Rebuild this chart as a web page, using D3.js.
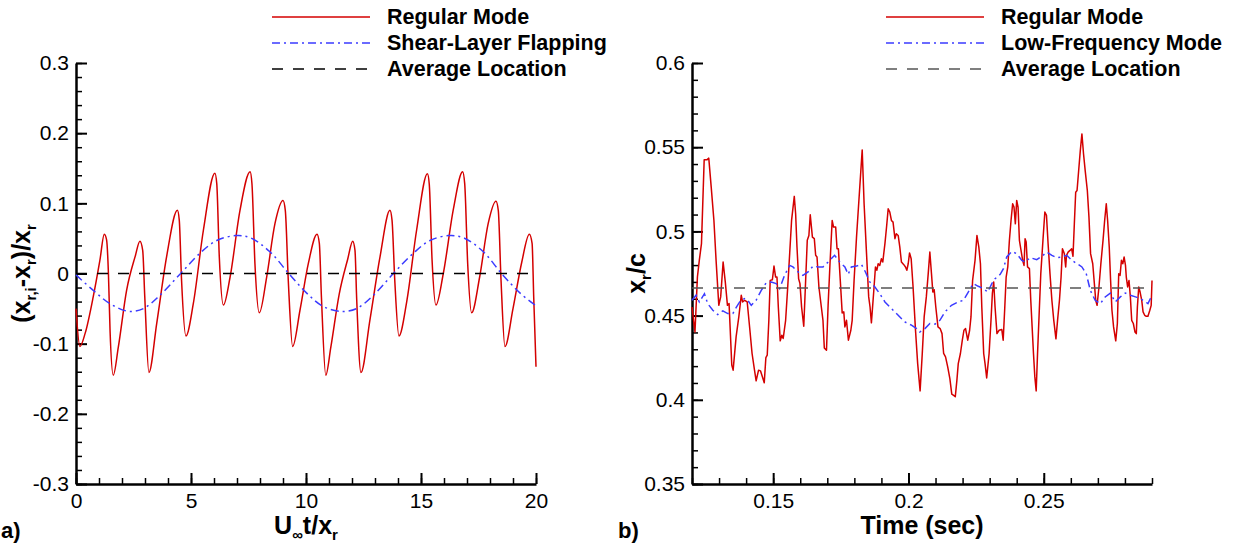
<!DOCTYPE html>
<html><head><meta charset="utf-8">
<script src="https://cdn.jsdelivr.net/npm/d3@7"></script>
<style>
body{margin:0;background:#fff}
svg{display:block}
text{font-family:"Liberation Sans",Arial,Helvetica,sans-serif}
</style>
</head><body>
<svg id="c" width="1237" height="544"></svg>
<script>
// ---------- Panel a) data ----------
const aXTicks = [0, 5, 10, 15, 20];
const aYTicks = [-0.3, -0.2, -0.1, 0, 0.1, 0.2, 0.3];
const aLegend = ["Regular Mode", "Shear-Layer Flapping", "Average Location"];
const aAverage = 0;
const aRegular = [
  [0.00,-0.050],[0.17,-0.104],[0.40,-0.085],[0.75,-0.033],[1.04,0.019],[1.23,0.056],[1.33,0.048],[1.41,0.000],[1.48,-0.081],
  [1.62,-0.145],[1.84,-0.105],[2.20,-0.024],[2.57,0.024],[2.78,0.046],[2.90,0.033],[2.99,-0.033],
  [3.17,-0.141],[3.51,-0.071],[3.94,0.024],[4.41,0.090],[4.49,0.076],[4.59,-0.010],
  [4.78,-0.089],[5.10,-0.043],[5.54,0.062],[6.04,0.143],[6.12,0.128],[6.23,0.024],
  [6.41,-0.045],[6.70,-0.005],[7.13,0.090],[7.57,0.145],[7.65,0.128],[7.78,0.014],
  [7.97,-0.056],[8.29,-0.005],[8.65,0.071],[9.00,0.104],[9.10,0.090],[9.23,-0.010],
  [9.42,-0.104],[9.74,-0.052],[10.10,0.014],[10.48,0.056],[10.58,0.043],[10.67,-0.033],
  [10.86,-0.145],[11.08,-0.105],[11.44,-0.030],[11.81,0.020],[12.03,0.046],[12.13,0.033],[12.20,-0.033],
  [12.39,-0.141],[12.78,-0.066],[13.22,0.024],[13.65,0.090],[13.74,0.076],[13.86,-0.010],
  [14.04,-0.089],[14.38,-0.040],[14.81,0.062],[15.28,0.142],[15.36,0.127],[15.48,0.020],
  [15.65,-0.045],[15.97,0.000],[16.41,0.092],[16.81,0.145],[16.90,0.128],[17.03,0.014],
  [17.20,-0.056],[17.55,-0.005],[17.92,0.071],[18.26,0.103],[18.36,0.090],[18.48,-0.010],
  [18.65,-0.104],[19.00,-0.050],[19.38,0.016],[19.71,0.056],[19.83,0.043],[19.90,-0.033],[20.00,-0.133]
];
const aFlapping = [
  [0,-0.002],[0.75,-0.024],[1.48,-0.043],[2.30,-0.054],[2.93,-0.050],[3.65,-0.031],[4.55,0.000],
  [5.39,0.029],[6.12,0.047],[6.95,0.054],[7.57,0.051],[8.43,0.031],[9.25,0.000],[10.03,-0.028],
  [10.75,-0.047],[11.55,-0.054],[12.20,-0.050],[12.93,-0.031],[13.80,0.000],[14.67,0.029],
  [15.39,0.047],[16.20,0.054],[16.84,0.051],[17.71,0.031],[18.50,0.000],[19.31,-0.028],[20.00,-0.046]
];

// ---------- Panel b) data ----------
const bXTicks = [0.15, 0.2, 0.25];
const bYTicks = [0.35, 0.4, 0.45, 0.5, 0.55, 0.6];
const bLegend = ["Regular Mode", "Low-Frequency Mode", "Average Location"];
const bAverage = 0.4664;
const bRegular = [
  [0.1200,0.4551],[0.1211,0.4403],[0.1220,0.4729],[0.1227,0.4828],[0.1235,0.4927],[0.1245,0.5425],[0.1255,0.5425],
  [0.1262,0.5435],[0.1271,0.5263],[0.1281,0.5065],[0.1289,0.4828],[0.1299,0.4561],[0.1306,0.4611],[0.1315,0.4818],
  [0.1323,0.4700],[0.1331,0.4561],[0.1337,0.4571],[0.1347,0.4206],[0.1352,0.4176],[0.1363,0.4374],[0.1373,0.4492],
  [0.1382,0.4621],[0.1387,0.4581],[0.1395,0.4591],[0.1404,0.4581],[0.1414,0.4413],[0.1422,0.4275],[0.1431,0.4176],
  [0.1437,0.4113],[0.1446,0.4176],[0.1453,0.4172],[0.1461,0.4132],[0.1467,0.4101],[0.1473,0.4251],[0.1478,0.4265],
  [0.1484,0.4472],[0.1489,0.4709],[0.1497,0.4713],[0.1503,0.4794],[0.1509,0.4729],[0.1514,0.4729],[0.1519,0.4551],
  [0.1526,0.4350],[0.1532,0.4383],[0.1537,0.4364],[0.1546,0.4472],[0.1553,0.4650],[0.1561,0.4868],[0.1568,0.5065],
  [0.1578,0.5208],[0.1583,0.5105],[0.1588,0.4907],[0.1594,0.4719],[0.1599,0.4690],[0.1605,0.4551],[0.1613,0.4437],
  [0.1619,0.4670],[0.1626,0.4947],[0.1632,0.4976],[0.1637,0.5099],[0.1645,0.4966],[0.1652,0.4957],[0.1657,0.4858],
  [0.1662,0.4848],[0.1669,0.4670],[0.1678,0.4551],[0.1684,0.4472],[0.1689,0.4308],[0.1697,0.4294],[0.1703,0.4561],
  [0.1710,0.4808],[0.1718,0.5065],[0.1723,0.5026],[0.1731,0.5026],[0.1736,0.4897],[0.1741,0.4897],[0.1748,0.4709],
  [0.1755,0.4516],[0.1761,0.4522],[0.1765,0.4433],[0.1771,0.4472],[0.1778,0.4354],[0.1787,0.4413],[0.1792,0.4472],
  [0.1799,0.4709],[0.1808,0.4966],[0.1816,0.5164],[0.1829,0.5484],[0.1836,0.5164],[0.1845,0.4868],[0.1853,0.4611],
  [0.1858,0.4551],[0.1863,0.4457],[0.1871,0.4630],[0.1878,0.4789],[0.1883,0.4769],[0.1888,0.4808],[0.1894,0.4798],
  [0.1900,0.4838],[0.1905,0.4818],[0.1913,0.4927],[0.1919,0.5026],[0.1925,0.5134],[0.1931,0.5115],[0.1937,0.5065],
  [0.1943,0.5055],[0.1950,0.4957],[0.1955,0.4986],[0.1962,0.4976],[0.1968,0.4907],[0.1974,0.4818],[0.1982,0.4804],
  [0.1989,0.4789],[0.1994,0.4769],[0.1999,0.4808],[0.2004,0.4872],[0.2010,0.4838],[0.2017,0.4670],[0.2026,0.4413],
  [0.2034,0.4215],[0.2043,0.4053],[0.2051,0.4275],[0.2058,0.4492],[0.2066,0.4611],[0.2073,0.4749],[0.2079,0.4877],
  [0.2085,0.4749],[0.2090,0.4640],[0.2095,0.4654],[0.2101,0.4551],[0.2109,0.4433],[0.2117,0.4423],[0.2124,0.4393],
  [0.2130,0.4275],[0.2137,0.4255],[0.2145,0.4196],[0.2153,0.4126],[0.2160,0.4034],[0.2167,0.4026],[0.2173,0.4018],
  [0.2179,0.4117],[0.2184,0.4215],[0.2192,0.4275],[0.2199,0.4354],[0.2205,0.4413],[0.2211,0.4423],[0.2219,0.4354],
  [0.2226,0.4413],[0.2231,0.4492],[0.2237,0.4709],[0.2246,0.4828],[0.2253,0.4976],[0.2260,0.4907],[0.2266,0.4808],
  [0.2271,0.4551],[0.2278,0.4275],[0.2283,0.4215],[0.2289,0.4130],[0.2298,0.4275],[0.2305,0.4472],[0.2310,0.4630],
  [0.2315,0.4700],[0.2320,0.4551],[0.2327,0.4393],[0.2335,0.4413],[0.2345,0.4417],[0.2350,0.4354],[0.2356,0.4551],
  [0.2361,0.4729],[0.2367,0.4789],[0.2373,0.4947],[0.2379,0.5065],[0.2385,0.5164],[0.2390,0.5144],[0.2395,0.5045],
  [0.2400,0.5184],[0.2405,0.5144],[0.2410,0.4947],[0.2416,0.4887],[0.2422,0.4828],[0.2427,0.4798],[0.2431,0.4957],
  [0.2435,0.4937],[0.2440,0.4789],[0.2447,0.4779],[0.2452,0.4591],[0.2457,0.4433],[0.2462,0.4275],[0.2467,0.4136],
  [0.2472,0.4053],[0.2477,0.4275],[0.2483,0.4512],[0.2489,0.4749],[0.2497,0.4947],[0.2504,0.5115],[0.2510,0.5095],
  [0.2516,0.4927],[0.2523,0.4749],[0.2530,0.4591],[0.2537,0.4472],[0.2545,0.4362],[0.2551,0.4472],[0.2558,0.4591],
  [0.2564,0.4729],[0.2569,0.4897],[0.2576,0.4868],[0.2581,0.4789],[0.2584,0.4858],[0.2590,0.4877],[0.2597,0.4887],
  [0.2603,0.4897],[0.2608,0.4852],[0.2613,0.5045],[0.2618,0.5233],[0.2623,0.5243],[0.2629,0.5362],[0.2635,0.5480],
  [0.2641,0.5579],[0.2647,0.5460],[0.2653,0.5362],[0.2661,0.5243],[0.2667,0.5085],[0.2673,0.4868],[0.2681,0.4808],
  [0.2687,0.4690],[0.2692,0.4591],[0.2697,0.4561],[0.2704,0.4670],[0.2711,0.4808],[0.2719,0.4947],[0.2725,0.5065],
  [0.2731,0.5164],[0.2736,0.5065],[0.2742,0.4907],[0.2747,0.4709],[0.2752,0.4532],[0.2758,0.4433],[0.2766,0.4350],
  [0.2772,0.4453],[0.2777,0.4749],[0.2782,0.4739],[0.2787,0.4828],[0.2792,0.4808],[0.2797,0.4848],[0.2802,0.4798],
  [0.2805,0.4729],[0.2810,0.4670],[0.2815,0.4709],[0.2820,0.4611],[0.2825,0.4472],[0.2831,0.4453],[0.2837,0.4403],
  [0.2842,0.4393],[0.2846,0.4551],[0.2851,0.4670],[0.2856,0.4640],[0.2862,0.4591],[0.2867,0.4522],[0.2873,0.4502],
  [0.2879,0.4496],[0.2885,0.4496],[0.2892,0.4532],[0.2897,0.4561],[0.2900,0.4709]
];
const bLowFreq = [
  [0.1200,0.4591],[0.1215,0.4621],[0.1227,0.4581],[0.1246,0.4630],[0.1258,0.4571],[0.1277,0.4532],[0.1295,0.4506],
  [0.1314,0.4528],[0.1332,0.4512],[0.1351,0.4512],[0.1363,0.4547],[0.1376,0.4581],[0.1394,0.4601],[0.1406,0.4591],
  [0.1419,0.4561],[0.1437,0.4591],[0.1456,0.4650],[0.1474,0.4694],[0.1493,0.4700],[0.1511,0.4690],[0.1524,0.4660],
  [0.1542,0.4739],[0.1561,0.4798],[0.1573,0.4789],[0.1592,0.4759],[0.1610,0.4739],[0.1629,0.4759],[0.1647,0.4794],
  [0.1666,0.4789],[0.1684,0.4789],[0.1703,0.4818],[0.1727,0.4858],[0.1746,0.4818],[0.1765,0.4789],[0.1777,0.4745],
  [0.1789,0.4789],[0.1808,0.4794],[0.1826,0.4804],[0.1841,0.4759],[0.1857,0.4700],[0.1876,0.4670],[0.1894,0.4630],
  [0.1913,0.4581],[0.1937,0.4542],[0.1962,0.4502],[0.1987,0.4462],[0.2011,0.4443],[0.2030,0.4423],[0.2042,0.4403],
  [0.2061,0.4423],[0.2079,0.4453],[0.2098,0.4449],[0.2116,0.4472],[0.2135,0.4522],[0.2159,0.4561],[0.2184,0.4581],
  [0.2203,0.4591],[0.2221,0.4640],[0.2240,0.4690],[0.2258,0.4674],[0.2277,0.4660],[0.2293,0.4640],[0.2308,0.4690],
  [0.2320,0.4719],[0.2339,0.4745],[0.2351,0.4779],[0.2363,0.4848],[0.2382,0.4881],[0.2400,0.4868],[0.2419,0.4828],
  [0.2431,0.4818],[0.2450,0.4844],[0.2474,0.4832],[0.2493,0.4852],[0.2511,0.4877],[0.2530,0.4858],[0.2548,0.4844],
  [0.2567,0.4848],[0.2585,0.4858],[0.2604,0.4828],[0.2623,0.4808],[0.2641,0.4789],[0.2657,0.4749],[0.2672,0.4650],
  [0.2690,0.4591],[0.2709,0.4571],[0.2727,0.4611],[0.2746,0.4634],[0.2764,0.4581],[0.2783,0.4611],[0.2801,0.4634],
  [0.2820,0.4621],[0.2839,0.4611],[0.2857,0.4601],[0.2876,0.4581],[0.2885,0.4571],[0.2900,0.4621]
];

// ---------- styles ----------
const RED = "#d40000", BLUE = "#3b3bff";
const FONT = '"Liberation Sans",Arial,Helvetica,sans-serif';
const svg = d3.select("#c");

function fmt(d){ return String(+d.toFixed(3)); }

function panel(o){
  const x = d3.scaleLinear().domain(o.xDom).range([o.left, o.right]);
  const y = d3.scaleLinear().domain(o.yDom).range([484, 63]);
  const g = svg.append("g");

  // minor ticks
  g.append("g").attr("transform","translate(0,484)")
    .call(d3.axisBottom(x).tickValues(o.xMinor).tickSize(-6).tickSizeOuter(0).tickFormat(""))
    .call(s=>{s.select(".domain").remove(); s.selectAll("line").attr("stroke","#000").attr("stroke-width",1.5);});
  g.append("g").attr("transform",`translate(${o.left},0)`)
    .call(d3.axisLeft(y).tickValues(o.yMinor).tickSize(-6).tickSizeOuter(0).tickFormat(""))
    .call(s=>{s.select(".domain").remove(); s.selectAll("line").attr("stroke","#000").attr("stroke-width",1.5);});

  // major axes
  const ax = g.append("g").attr("transform","translate(0,484)")
    .call(d3.axisBottom(x).tickValues(o.xTicks).tickSize(-11).tickSizeOuter(0).tickPadding(9).tickFormat(fmt));
  const ay = g.append("g").attr("transform",`translate(${o.left},0)`)
    .call(d3.axisLeft(y).tickValues(o.yTicks).tickSize(-11).tickSizeOuter(0).tickPadding(7).tickFormat(fmt));
  [ax, ay].forEach(s=>{
    s.attr("font-family", FONT).attr("font-size", 21);
    s.select(".domain").attr("stroke","#000").attr("stroke-width",2.5);
    s.selectAll(".tick line").attr("stroke","#000").attr("stroke-width",2);
    s.selectAll(".tick text").attr("fill","#000");
  });

  // data lines
  g.append("path").attr("fill","none").attr("stroke",RED).attr("stroke-width",1.5)
    .attr("stroke-linejoin","round")
    .attr("d", d3.line().x(d=>x(d[0])).y(d=>y(d[1])).curve(o.curveR)(o.regular));
  g.append("path").attr("fill","none").attr("stroke",BLUE).attr("stroke-width",1.5)
    .attr("stroke-dasharray","8,4,2,4")
    .attr("d", d3.line().x(d=>x(d[0])).y(d=>y(d[1])).curve(o.curveB)(o.low));
  g.append("path").attr("fill","none").attr("stroke",o.avgColor).attr("stroke-width",1.5)
    .attr("stroke-dasharray","11,10")
    .attr("d", d3.line()([[x(o.xDom[0]), y(o.avg)],[x(o.xDom[1]), y(o.avg)]]));

  // legend
  const styles = [
    {c:RED, dash:null},
    {c:BLUE, dash:"8,4,2,4"},
    {c:o.avgColor, dash:"11,10"}
  ];
  o.legend.forEach((t,i)=>{
    const ly = 17 + i*26;
    g.append("line").attr("x1",o.legX).attr("x2",o.legX+98).attr("y1",ly).attr("y2",ly)
      .attr("stroke",styles[i].c).attr("stroke-width",1.5)
      .attr("stroke-dasharray",styles[i].dash);
    g.append("text").attr("x",o.legX+115).attr("y",24+i*26).attr("font-size",21.5)
      .attr("font-weight","bold").attr("fill","#000").text(t);
  });

  // x title
  const xt = g.append("text").attr("x",(o.left+o.right)/2).attr("y",534).attr("text-anchor","middle")
    .attr("font-size",25).attr("font-weight","bold").attr("fill","#000");
  o.xTitle(xt);
  // y title
  const yt = g.append("text").attr("transform",`translate(${o.ytX},273.5) rotate(-90)`)
    .attr("text-anchor","middle").attr("font-size",25).attr("font-weight","bold").attr("fill","#000");
  o.yTitle(yt);
  // panel letter
  g.append("text").attr("x",o.letterX).attr("y",538).attr("font-size",22).attr("font-weight","bold")
    .attr("fill","#000").text(o.letter);
}

function sub(t, s, dy){ t.append("tspan").attr("font-size",15).attr("dy",dy).text(s); }

panel({
  xDom:[0,20], yDom:[-0.3,0.3], left:76, right:536,
  xTicks:aXTicks, yTicks:aYTicks,
  xMinor:d3.range(0,21,1), yMinor:d3.range(-30,31,2).map(v=>v/100),
  regular:aRegular, low:aFlapping, avg:aAverage, avgColor:"#000",
  curveR:d3.curveMonotoneX, curveB:d3.curveCatmullRom,
  legend:aLegend, legX:272, letter:"a)", letterX:1, ytX:30,
  xTitle:t=>{ t.append("tspan").text("U"); sub(t,"\u221E",6); t.append("tspan").attr("dy",-6).text("t/x"); sub(t,"r",6); },
  yTitle:t=>{ t.append("tspan").text("(x"); sub(t,"r,i",6); t.append("tspan").attr("dy",-6).text("-x");
              sub(t,"r",6); t.append("tspan").attr("dy",-6).text(")/x"); sub(t,"r",6); }
});

panel({
  xDom:[0.12,0.29], yDom:[0.35,0.6], left:692, right:1152,
  xTicks:bXTicks, yTicks:bYTicks,
  xMinor:d3.range(12,30,1).map(v=>v/100), yMinor:d3.range(35,61,1).map(v=>v/100),
  regular:bRegular, low:bLowFreq, avg:bAverage, avgColor:"#555",
  curveR:d3.curveLinear, curveB:d3.curveLinear,
  legend:bLegend, legX:886, letter:"b)", letterX:618, ytX:645,
  xTitle:t=>{ t.text("Time (sec)"); },
  yTitle:t=>{ t.append("tspan").text("x"); sub(t,"r",6); t.append("tspan").attr("dy",-6).text("/c"); }
});
</script>
</body></html>
